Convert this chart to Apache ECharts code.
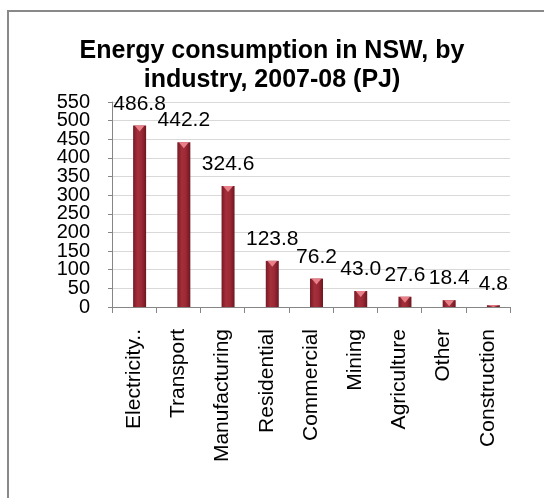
<!DOCTYPE html>
<html>
<head>
<meta charset="utf-8">
<script src="https://cdn.jsdelivr.net/npm/echarts@6/dist/echarts.min.js"></script>
<style>
  html, body { margin: 0; padding: 0; background: #fff; }
  #chart { width: 544px; height: 498px; }
</style>
</head>
<body>
<div id="chart"></div>
<script>
// data
const categories = ['Electricity..', 'Transport', 'Manufacturing', 'Residential', 'Commercial', 'Mining', 'Agriculture', 'Other', 'Construction'];
const values = [486.8, 442.2, 324.6, 123.8, 76.2, 43.0, 27.6, 18.4, 4.8];
const yMin = 0, yMax = 550, yStep = 50;

const font = '"Liberation Sans", Arial, sans-serif';
const gridTop = 102, gridBottom = 191;
const pxPerUnit = (498 - gridTop - gridBottom) / (yMax - yMin);
const barShift = 5.5; // bars sit a little right of the band centre in the original

const chart = echarts.init(document.getElementById('chart'));

// tick labels are packed tightly, so they are split over two overlaid axes
// (even steps on one, odd steps on the other) to keep echarts from hiding any
const yLabel = (even) => ({
  margin: 22, fontFamily: font, fontSize: 20, color: '#000',
  showMinLabel: true, showMaxLabel: true,
  formatter: v => ((Math.round((v - yMin) / yStep) % 2 === 0) === even ? String(v) : '')
});

const option = {
  backgroundColor: '#fff',
  animation: false,
  title: {
    text: 'Energy consumption in NSW, by\nindustry, 2007-08 (PJ)',
    left: 'center',
    top: 32,
    textStyle: { fontFamily: font, fontSize: 25, fontWeight: 'bold', color: '#000', lineHeight: 29 }
  },
  // frame of the chart area (only left and top edges fall inside the picture)
  graphic: [{
    type: 'rect',
    shape: { x: 8, y: 11, width: 700, height: 700 },
    style: { fill: 'none', stroke: '#898989', lineWidth: 2 },
    silent: true
  }],
  grid: { left: 112, right: 34, top: gridTop, bottom: gridBottom },
  xAxis: {
    type: 'category',
    data: categories,
    axisLine: { lineStyle: { color: '#868686' } },
    axisTick: { show: true, length: 6, lineStyle: { color: '#868686' } },
    axisLabel: { rotate: 90, margin: 22, fontFamily: font, fontSize: 21, color: '#000', interval: 0 }
  },
  yAxis: [
    {
      type: 'value',
      position: 'left',
      min: yMin, max: yMax, interval: yStep,
      axisLine: { show: true, lineStyle: { color: '#868686' } },
      axisTick: { show: true, length: 4, lineStyle: { color: '#868686' } },
      splitLine: { lineStyle: { color: '#d9d9d9' } },
      axisLabel: yLabel(true)
    },
    {
      type: 'value',
      position: 'left',
      offset: 0,
      min: yMin, max: yMax, interval: yStep,
      axisLine: { show: false },
      axisTick: { show: false },
      splitLine: { show: false },
      axisLabel: yLabel(false)
    }
  ],
  series: [
    {
      // the bars themselves
      type: 'pictorialBar',
      data: values,
      barGap: '-100%',
      symbol: 'rect',
      symbolSize: [13, '100%'],
      symbolPosition: 'start',
      symbolOffset: [barShift, 0],
      itemStyle: {
        color: new echarts.graphic.LinearGradient(0, 0, 1, 0, [
          { offset: 0, color: '#761a25' },
          { offset: 0.35, color: '#a52f3b' },
          { offset: 0.65, color: '#9b2935' },
          { offset: 1, color: '#6c1721' }
        ])
      },
      label: {
        show: true,
        position: 'top',
        distance: 11,
        offset: [barShift, 0],
        fontFamily: font,
        fontSize: 21,
        color: '#000',
        formatter: p => p.value.toFixed(1)
      },
      z: 2
    },
    {
      // pink bevel at the top of each bar, never taller than the bar itself
      type: 'pictorialBar',
      data: values,
      barGap: '-100%',
      symbol: 'triangle',
      symbolRotate: 180,
      symbolSize: v => [10, Math.min(6, v * pxPerUnit)],
      symbolPosition: 'end',
      symbolOffset: [barShift, 0],
      itemStyle: { color: '#e8808a' },
      silent: true,
      z: 3
    }
  ]
};

chart.setOption(option);
</script>
</body>
</html>
